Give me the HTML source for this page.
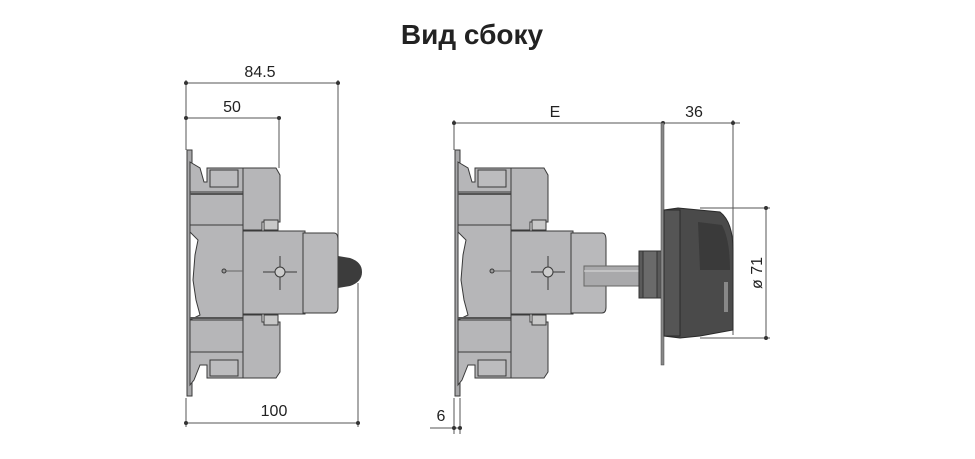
<!DOCTYPE html>
<html><head><meta charset="utf-8"><style>
html,body{margin:0;padding:0;background:#fff;}
svg{display:block;}
text{font-family:"Liberation Sans",sans-serif;fill:#222;}
</style></head><body>
<svg width="975" height="459" viewBox="0 0 975 459" xmlns="http://www.w3.org/2000/svg">
<defs>
<g id="dev" stroke="#3a3a3a" stroke-width="1">
  <rect x="187" y="150" width="5" height="246" fill="#a8a8aa"/>
  <path d="M190 162 L200 168 L204 182 L207 182 L207 168 L243 168 L243 378 L207 378 L207 365 L200 365 L194 380 L190 385 Z" fill="#b6b6b8"/>
  <path d="M210 170 L238 170 L238 187 L210 187 Z" fill="#bcbcbe"/>
  <path d="M210 360 L238 360 L238 376 L210 376 Z" fill="#bcbcbe"/>
  <path d="M190 232 L198 240 L195 255 L193 280 L196 300 L200 315 L190 320 Z" fill="#fff" stroke="#3a3a3a"/>
  <line x1="190" y1="192" x2="243" y2="192"/>
  <line x1="190" y1="225" x2="243" y2="225"/>
  <line x1="190" y1="320" x2="243" y2="320"/>
  <line x1="190" y1="352" x2="243" y2="352"/>
  <path d="M190 194 L247 194 L247 230" fill="none" stroke="#555" stroke-width="2"/>
  <path d="M190 318 L247 318 L247 352" fill="none" stroke="#555" stroke-width="2"/>
  <path d="M243 168 L276 168 L280 175 L280 222 L262 222 L262 230 L243 230 Z" fill="#b6b6b8"/>
  <path d="M243 315 L262 315 L262 322 L280 322 L280 372 L276 378 L243 378 Z" fill="#b6b6b8"/>
  <rect x="264" y="220" width="14" height="10" fill="#c8c8c8"/>
  <rect x="264" y="315" width="14" height="10" fill="#c8c8c8"/>
  <rect x="243" y="231" width="62" height="83" fill="#b6b6b8"/>
  <path d="M303 233 L334 233 Q338 233 338 240 L338 307 Q338 313 334 313 L303 313 Z" fill="#b9b9bb"/>
  <line x1="224" y1="271" x2="243" y2="271" stroke="#666"/>
  <circle cx="224" cy="271" r="2" fill="#999"/>
  <line x1="263" y1="272" x2="297" y2="272"/>
  <line x1="280" y1="256" x2="280" y2="290"/>
  <circle cx="280" cy="272" r="5" fill="#ccc"/>
</g>
</defs>

<text x="472" y="44" font-size="28" font-weight="bold" text-anchor="middle" fill="#1a1a1a">Вид сбоку</text>

<g stroke="#555" stroke-width="1" fill="none">
  <line x1="186" y1="83" x2="340" y2="83"/>
  <line x1="186" y1="118" x2="281" y2="118"/>
  <line x1="186" y1="80" x2="186" y2="150"/>
  <line x1="279" y1="118" x2="279" y2="168"/>
  <line x1="338" y1="80" x2="338" y2="252"/>
  <line x1="358" y1="283" x2="358" y2="427"/>
  <line x1="186" y1="398" x2="186" y2="427"/>
  <line x1="186" y1="423" x2="360" y2="423"/>
  <line x1="454" y1="123" x2="740" y2="123"/>
  <line x1="454" y1="120" x2="454" y2="150"/>
  <line x1="733" y1="120" x2="733" y2="335"/>
  <line x1="700" y1="208" x2="770" y2="208"/>
  <line x1="700" y1="338" x2="770" y2="338"/>
  <line x1="766" y1="206" x2="766" y2="340"/>
  <line x1="454" y1="398" x2="454" y2="434"/>
  <line x1="460" y1="398" x2="460" y2="434"/>
  <line x1="430" y1="428" x2="462" y2="428"/>
</g>
<g fill="#333">
  <circle cx="186" cy="83" r="2"/><circle cx="338" cy="83" r="2"/>
  <circle cx="186" cy="118" r="2"/><circle cx="279" cy="118" r="2"/>
  <circle cx="186" cy="423" r="2"/><circle cx="358" cy="423" r="2"/>
  <circle cx="454" cy="123" r="2"/><circle cx="663" cy="123" r="2"/><circle cx="733" cy="123" r="2"/>
  <circle cx="766" cy="208" r="2"/><circle cx="766" cy="338" r="2"/>
  <circle cx="454" cy="428" r="2"/><circle cx="460" cy="428" r="2"/>
</g>

<text x="260" y="77" font-size="16" text-anchor="middle">84.5</text>
<text x="232" y="112" font-size="16" text-anchor="middle">50</text>
<text x="274" y="416" font-size="16" text-anchor="middle">100</text>
<text x="555" y="117" font-size="16" text-anchor="middle">E</text>
<text x="694" y="117" font-size="16" text-anchor="middle">36</text>
<text x="441" y="421" font-size="16" text-anchor="middle">6</text>
<text x="0" y="0" font-size="16" text-anchor="middle" transform="translate(762,273) rotate(-90)">ø 71</text>

<use href="#dev"/>
<path d="M338 256 L350 258 Q362 262 362 272 Q362 282 350 286 L338 288 Z" fill="#3c3c3c"/>

<use href="#dev" transform="translate(268,0)"/>
<rect x="584" y="266" width="56" height="20" fill="#a9a9ab" stroke="#666"/>
<line x1="584" y1="271" x2="640" y2="271" stroke="#ddd"/>
<rect x="639" y="251" width="23" height="47" fill="#5a5a5a" stroke="#333"/>
<rect x="643" y="251" width="14" height="47" fill="#6a6a6a" stroke="#333"/>
<rect x="661" y="123" width="3" height="242" fill="#888" stroke="#444" stroke-width="0.5"/>
<path d="M664 210 L678 208 L720 212 Q733 222 733 250 L733 330 L700 336 L680 338 L664 336 Z" fill="#4a4a4a" stroke="#2a2a2a"/>
<rect x="664" y="210" width="16" height="126" fill="#555" stroke="#2a2a2a"/>
<path d="M698 222 L722 225 Q730 240 730 270 L700 270 Z" fill="#3a3a3a"/>
<rect x="724" y="282" width="4" height="30" fill="#888"/>
</svg>
</body></html>
